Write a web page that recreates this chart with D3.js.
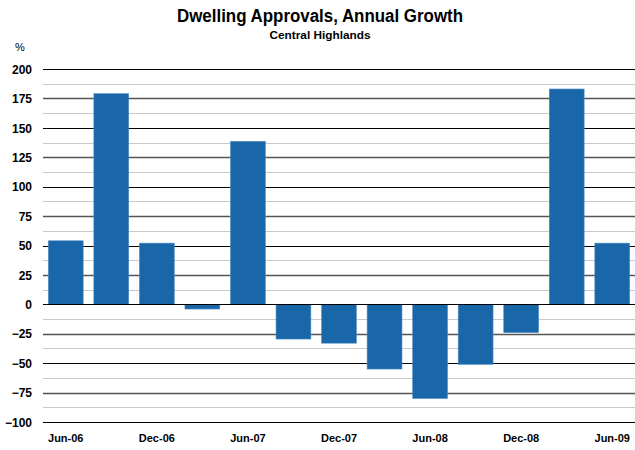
<!DOCTYPE html>
<html>
<head>
<meta charset="utf-8">
<script src="https://cdn.jsdelivr.net/npm/d3@7"></script>
<style>
  html, body { margin: 0; padding: 0; background: #fff; }
  svg { display: block; }
  .title { font-family: "Liberation Sans", Arial, sans-serif; font-weight: bold; }
  .tick text { font-family: "Liberation Sans", Arial, sans-serif; font-weight: bold; fill: #000; }
</style>
</head>
<body>
<svg id="chart" width="635" height="450"></svg>
<script>
// Quarterly periods, June 2006 to June 2009
const quarters = ["Jun-06", "Sep-06", "Dec-06", "Mar-07", "Jun-07", "Sep-07", "Dec-07",
                  "Mar-08", "Jun-08", "Sep-08", "Dec-08", "Mar-09", "Jun-09"];
// Annual growth in dwelling approvals (%)
const growth = [54, 179, 52, -4, 138.5, -29.5, -33, -55, -80, -51, -24, 183, 52];
// Labelled periods along the bottom axis
const quarterLabels = ["Jun-06", "Dec-06", "Jun-07", "Dec-07", "Jun-08", "Dec-08", "Jun-09"];
// Value axis ticks
const yTicks = [-100, -75, -50, -25, 0, 25, 50, 75, 100, 125, 150, 175, 200];
const yMinorTicks = [-87.5, -62.5, -37.5, -12.5, 12.5, 37.5, 62.5, 87.5, 112.5, 137.5, 162.5, 187.5];

(function drawChart() {
  const svg = d3.select("#chart");
  const plotLeft = 43, plotRight = 635, plotTop = 69, plotBottom = 422;

  const x = d3.scaleBand().domain(quarters).range([plotLeft, plotRight])
    .paddingInner(0.235).paddingOuter(0.117);
  const y = d3.scaleLinear().domain([-100, 200]).range([plotBottom, plotTop]);
  const snap = v => Math.round(y(v)) + 0.5;

  // Minor gridlines
  svg.append("g").selectAll("line").data(yMinorTicks).join("line")
    .attr("x1", plotLeft).attr("x2", plotRight)
    .attr("y1", snap).attr("y2", snap)
    .attr("stroke", "#c8c8c8").attr("stroke-width", 1.2);

  // Major gridlines
  svg.append("g").selectAll("line").data(yTicks).join("line")
    .attr("x1", plotLeft).attr("x2", plotRight)
    .attr("y1", snap).attr("y2", snap)
    .attr("stroke", d => d % 50 === 0 ? "#000" : "#555")
    .attr("stroke-width", d => d % 50 === 0 ? 1.2 : 1.5);

  // Bars
  svg.append("g").selectAll("rect").data(growth).join("rect")
    .attr("x", (d, i) => x(quarters[i]))
    .attr("width", x.bandwidth())
    .attr("y", d => y(Math.max(0, d)))
    .attr("height", d => Math.abs(y(d) - y(0)))
    .attr("fill", "#1966a9")
    .attr("stroke", "#4f8cc4")
    .attr("stroke-width", 0.6);

  // Zero line on top of bars
  svg.append("line")
    .attr("x1", plotLeft).attr("x2", plotRight)
    .attr("y1", snap(0)).attr("y2", snap(0))
    .attr("stroke", "#000").attr("stroke-width", 1.2);

  // Value axis labels
  const yAxis = svg.append("g")
    .attr("transform", `translate(${plotLeft - 11},0)`)
    .call(d3.axisLeft(y).tickValues(yTicks).tickSize(0).tickPadding(0));
  yAxis.select(".domain").remove();
  yAxis.selectAll("text").attr("font-size", 12).attr("dy", "0.35em");

  // Period axis labels
  const xAxis = svg.append("g")
    .attr("transform", `translate(0,${plotBottom + 12})`)
    .call(d3.axisBottom(x).tickValues(quarterLabels).tickSize(0).tickPadding(0));
  xAxis.select(".domain").remove();
  xAxis.selectAll("text").attr("font-size", 11).attr("dy", "0.71em");

  // Titles
  svg.append("text").attr("class", "title")
    .attr("x", 320).attr("y", 22).attr("text-anchor", "middle")
    .attr("font-size", 17.5)
    .attr("textLength", 286).attr("lengthAdjust", "spacingAndGlyphs")
    .text("Dwelling Approvals, Annual Growth");
  svg.append("text").attr("class", "title")
    .attr("x", 320).attr("y", 38.5).attr("text-anchor", "middle")
    .attr("font-size", 11.8)
    .text("Central Highlands");
  svg.append("text")
    .attr("x", 20).attr("y", 51).attr("text-anchor", "middle")
    .attr("font-family", "Liberation Sans, Arial, sans-serif")
    .attr("font-size", 11).text("%");
})();
</script>
</body>
</html>
